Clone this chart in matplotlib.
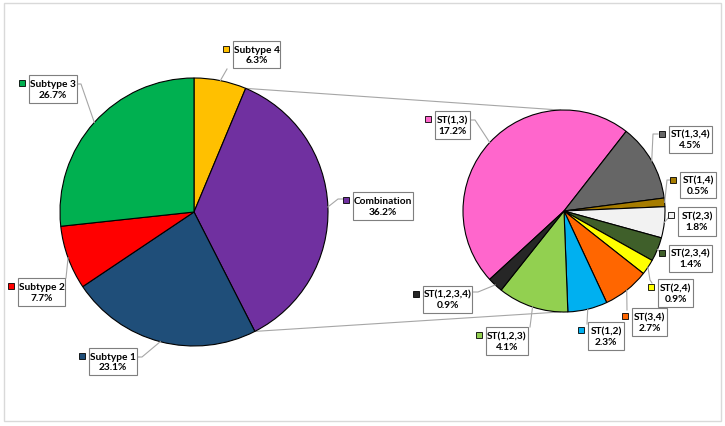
import numpy as np
import matplotlib.pyplot as plt
from matplotlib.patches import Rectangle

plt.rcParams['font.family'] = ['Lato', 'DejaVu Sans']

# main pie (clockwise from 12 o'clock)
main_labels = ["Subtype 4", "Combination", "Subtype 1", "Subtype 2", "Subtype 3"]
main_values = [6.3, 36.2, 23.1, 7.7, 26.7]
main_colors = ["#FFC000", "#7030A0", "#1F4E79", "#FF0000", "#00B050"]

# secondary pie = breakdown of "Combination"
sub_labels = ["ST(1,3)", "ST(1,3,4)", "ST(1,4)", "ST(2,3)", "ST(2,3,4)",
              "ST(2,4)", "ST(3,4)", "ST(1,2)", "ST(1,2,3)", "ST(1,2,3,4)"]
sub_values = [17.2, 4.5, 0.5, 1.8, 1.4, 0.9, 2.7, 2.3, 4.1, 0.9]
sub_colors = ["#FF66CC", "#666666", "#A67C00", "#F2F2F2", "#3F5F2A",
              "#FFFF00", "#FF6600", "#00B0F0", "#92D050", "#262626"]

W, H = 725, 427
fig = plt.figure(figsize=(W / 100, H / 100), dpi=100)
ax = fig.add_axes([0, 0, 1, 1])


def P(x, y):
    # pixel coords (y down) -> data coords (y up)
    return x, H - y


c1, r1, start1 = P(194, 213), 134, 90
c2, r2, start2 = P(564, 212), 101, 222.6

w1, _ = ax.pie(main_values, colors=main_colors, startangle=start1, counterclock=False,
               center=c1, radius=r1, wedgeprops=dict(edgecolor="black", linewidth=0.8))
w2, _ = ax.pie(sub_values, colors=sub_colors, startangle=start2, counterclock=False,
               center=c2, radius=r2, wedgeprops=dict(edgecolor="black", linewidth=0.8))

ax.set_xlim(0, W)
ax.set_ylim(0, H)
ax.set_aspect("equal")
ax.axis("off")

# connector lines from the "Combination" slice to the second pie
comb = w1[main_labels.index("Combination")]
for ang, ang2 in [(comb.theta2, 92), (comb.theta1, 268)]:
    a = np.radians(ang)
    b = np.radians(ang2)
    ax.plot([c1[0] + r1 * np.cos(a), c2[0] + r2 * np.cos(b)],
            [c1[1] + r1 * np.sin(a), c2[1] + r2 * np.sin(b)],
            color="#A6A6A6", lw=0.8, zorder=0)

# label boxes: (box left, box right, box top, box bottom), leader knee / end points
main_boxes = {
    "Subtype 4": ((233, 280, 42, 69), [(227, 70)]),
    "Combination": ((353, 413, 193, 221), [(338, 200), (343, 200)]),
    "Subtype 1": ((89, 137, 349, 376), [(142, 358), (137, 358)]),
    "Subtype 2": ((18, 65, 279, 307), [(66, 279)]),
    "Subtype 3": ((29, 77, 76, 104), [(81, 85), (77, 85)]),
}
sub_boxes = {
    "ST(1,3)": ((435, 470, 112, 140), [(475, 121), (470, 121)]),
    "ST(1,3,4)": ((669, 712, 127, 154), [(653, 135), (658, 135)]),
    "ST(1,4)": ((680, 716, 173, 199), [(667, 181), (671, 181)]),
    "ST(2,3)": ((678, 716, 208, 237), [(669, 218)]),
    "ST(2,3,4)": ((669, 712, 246, 273), [(660, 253)]),
    "ST(2,4)": ((658, 693, 280, 308), [(650, 281), (652, 284)]),
    "ST(3,4)": ((632, 667, 309, 337), [(627, 311)]),
    "ST(1,2)": ((588, 624, 323, 351), [(587, 325)]),
    "ST(1,2,3)": ((486, 528, 328, 356), [(530, 328)]),
    "ST(1,2,3,4)": ((423, 472, 287, 314), [(478, 293), (472, 293)]),
}


def draw_labels(wedges, labels, values, colors, center, radius, boxes):
    for wd, lab, val, col in zip(wedges, labels, values, colors):
        (x0, x1, y0, y1), pts = boxes[lab]
        mid = np.radians((wd.theta1 + wd.theta2) / 2)
        ex = center[0] + radius * np.cos(mid)
        ey = center[1] + radius * np.sin(mid)
        xs = [ex] + [p[0] for p in pts]
        ys = [ey] + [H - p[1] for p in pts]
        ax.plot(xs, ys, color="#A6A6A6", lw=0.8, zorder=1)
        ax.add_patch(Rectangle(P(x0, y1), x1 - x0, y1 - y0, facecolor="white",
                               edgecolor="#7F7F7F", lw=0.8, zorder=3))
        cx = (x0 + x1) / 2
        cy = (y0 + y1) / 2
        ax.text(*P(cx, cy), f"{lab}\n{val}%", ha="center", va="center",
                fontsize=7.3, fontweight="bold", color="black",
                linespacing=1.2, zorder=4)
        # legend key square
        ax.add_patch(Rectangle(P(x0 - 10, y0 + 11), 6, 6, facecolor=col,
                               edgecolor="black", lw=0.6, zorder=4))


draw_labels(w1, main_labels, main_values, main_colors, c1, r1, main_boxes)
draw_labels(w2, sub_labels, sub_values, sub_colors, c2, r2, sub_boxes)

# chart area border
fig.patches.append(Rectangle((4 / W, 5 / H), 717 / W, 418 / H, transform=fig.transFigure,
                             fill=False, edgecolor="#D9D9D9", lw=1))

fig.savefig("out.png", dpi=100)
